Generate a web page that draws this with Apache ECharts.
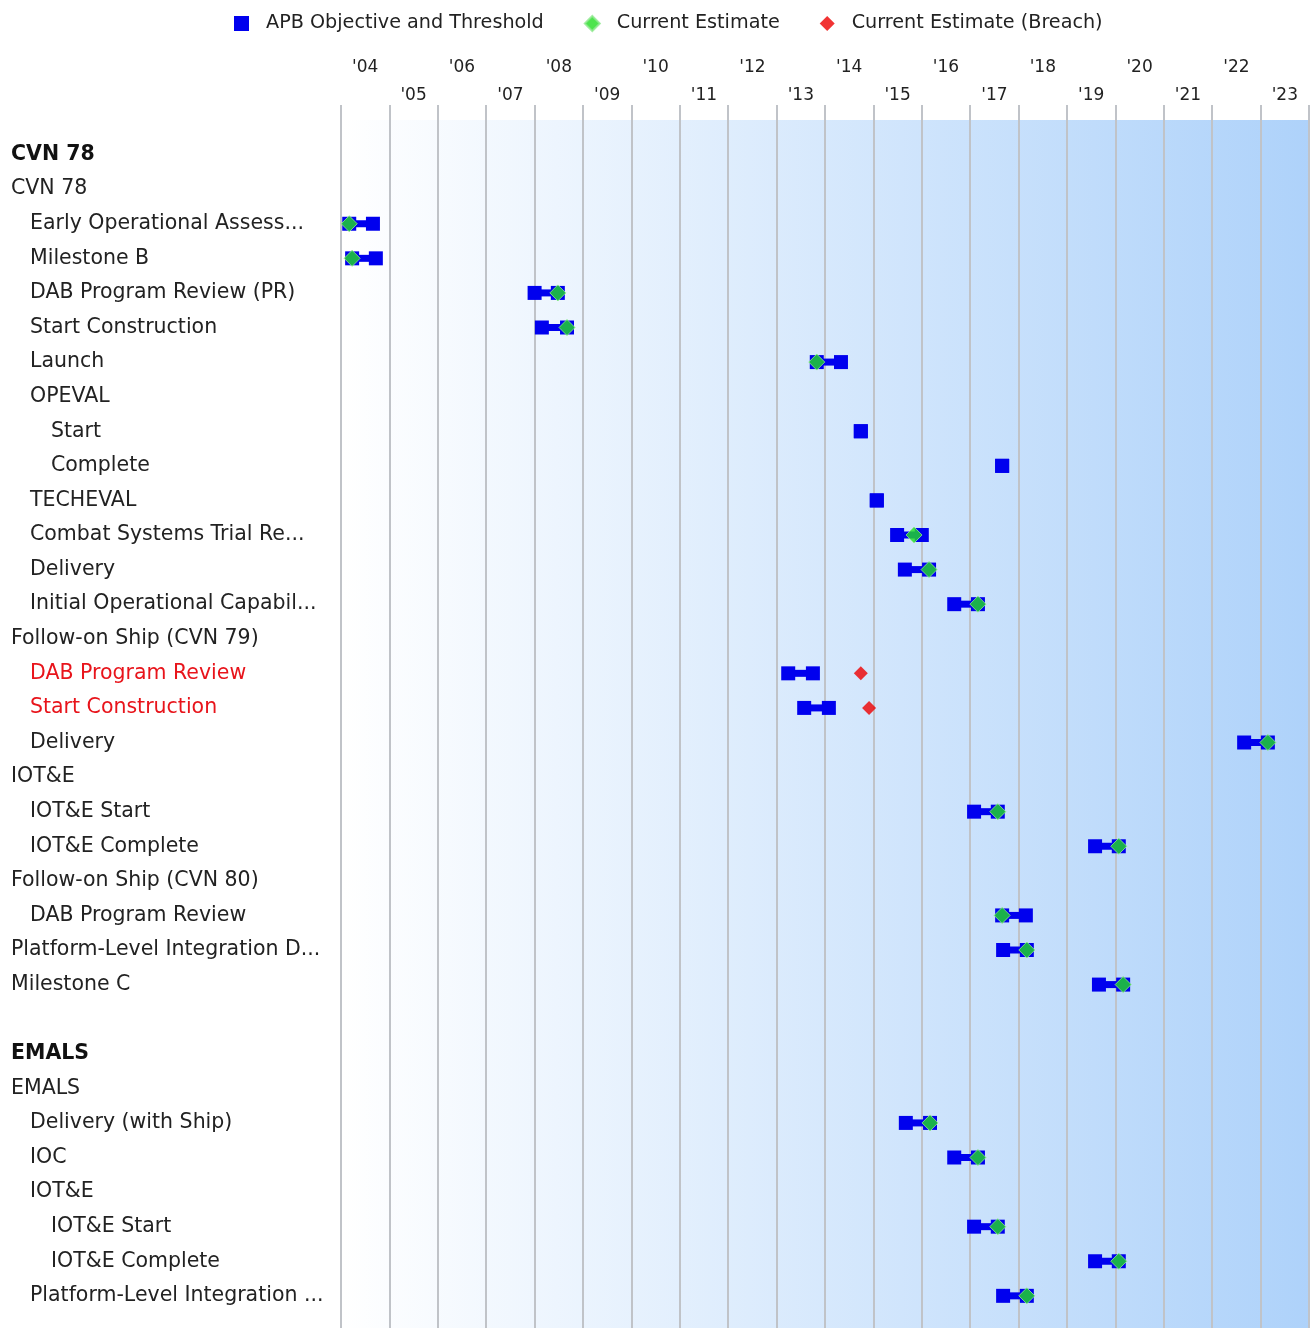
<!DOCTYPE html>
<html><head><meta charset="utf-8">
<script src="https://cdn.jsdelivr.net/npm/echarts@6/dist/echarts.min.js"></script>
<style>html,body{margin:0;padding:0;background:#fff}#c{width:1312px;height:1328px}</style>
</head><body><div id="c"></div>
<script>
const years = ["'04","'05","'06","'07","'08","'09","'10","'11","'12","'13","'14","'15","'16","'17","'18","'19","'20","'21","'22","'23"];

const rowLabels = [
  "CVN 78","CVN 78","Early Operational Assess...","Milestone B","DAB Program Review (PR)",
  "Start Construction","Launch","OPEVAL","Start","Complete","TECHEVAL",
  "Combat Systems Trial Re...","Delivery","Initial Operational Capabil...",
  "Follow-on Ship (CVN 79)","DAB Program Review","Start Construction","Delivery",
  "IOT&E","IOT&E Start","IOT&E Complete","Follow-on Ship (CVN 80)","DAB Program Review",
  "Platform-Level Integration D...","Milestone C","",
  "EMALS","EMALS","Delivery (with Ship)","IOC","IOT&E","IOT&E Start","IOT&E Complete",
  "Platform-Level Integration ..."
];
const rowLevels = [0,0,1,1,1,1,1,1,2,2,1,1,1,1,0,1,1,1,0,1,1,0,1,0,0,0,0,0,1,1,1,2,2,1];
const rowKinds  = ['b','n','n','n','n','n','n','n','n','n','n','n','n','n','n','r','r','n','n','n','n','n','n','n','n','n','b','n','n','n','n','n','n','n'];

const objective = [null,null,2004.17,2004.23,2008.0,2008.15,2013.83,null,2014.74,2017.66,2015.07,
  2015.49,2015.65,2016.67,null,2013.24,2013.57,2022.66,null,2017.08,2019.58,null,2017.66,
  2017.68,2019.66,null,null,null,2015.67,2016.67,null,2017.08,2019.58,2017.68];
const threshold = [null,null,2004.66,2004.72,2008.48,2008.67,2014.33,null,2014.74,2017.66,2015.07,
  2016.0,2016.15,2017.16,null,2013.75,2014.08,2023.15,null,2017.57,2020.07,null,2018.15,
  2018.17,2020.16,null,null,null,2016.17,2017.16,null,2017.57,2020.07,2018.17];
const currentEstimate = [null,null,2004.17,2004.23,2008.48,2008.67,2013.83,null,null,null,null,
  2015.84,2016.15,2017.16,null,null,null,2023.15,null,2017.57,2020.07,null,2017.66,
  2018.17,2020.16,null,null,null,2016.17,2017.16,null,2017.57,2020.07,2018.17];
const breachEstimate = [null,null,null,null,null,null,null,null,null,null,null,
  null,null,null,null,2014.74,2014.91,null,null,null,null,null,null,
  null,null,null,null,null,null,null,null,null,null,null];

const BLUE = '#0000ee', GREEN = '#22dd22', RED = '#ee0000';
const FONT = 'DejaVu Sans';

const apbData = [], ceData = [], brData = [];
rowLabels.forEach((_, i) => {
  if (objective[i] != null) apbData.push([objective[i], threshold[i], i]);
  if (currentEstimate[i] != null) ceData.push([currentEstimate[i], i]);
  if (breachEstimate[i] != null) brData.push([breachEstimate[i], i]);
});

const chart = echarts.init(document.getElementById('c'), null, {renderer: 'canvas'});
const option = {
  animation: false,
  textStyle: {fontFamily: FONT},
  legend: {
    left: 229, top: 9, itemWidth: 15, itemHeight: 15, itemGap: 40,
    textStyle: {fontFamily: FONT, fontSize: 19.2, color: '#222', padding: [0, 0, 0, 12]},
    data: [
      {name: 'APB Objective and Threshold', icon: 'rect'},
      {name: 'Current Estimate', icon: 'diamond'},
      {name: 'Current Estimate (Breach)', icon: 'diamond'}
    ]
  },
  grid: {
    left: 341, right: 3, top: 120, bottom: 0, show: true, borderWidth: 0,
    backgroundColor: new echarts.graphic.LinearGradient(0, 0, 1, 0, [
      {offset: 0, color: '#ffffff'}, {offset: 1, color: '#aed2fa'}
    ])
  },
  xAxis: [
    {type: 'value', min: 2004, max: 2024, show: false},
    {type: 'category', data: years, position: 'top', boundaryGap: true,
      axisLine: {show: false},
      axisTick: {show: true, length: 15, interval: 0, lineStyle: {color: '#c0c3c8', width: 2}},
      splitLine: {show: true, interval: 0, lineStyle: {color: '#c0c3c8', width: 2}},
      axisLabel: {interval: 0, margin: 10, fontFamily: FONT, fontSize: 17, color: '#222', lineHeight: 28,
        formatter: (v, idx) => idx % 2 === 0 ? v + '\n\u00a0' : v}
    }
  ],
  yAxis: {
    type: 'value', inverse: true, min: -1, max: 33.93, interval: 1,
    axisLine: {show: false}, axisTick: {show: false}, splitLine: {show: false},
    axisLabel: {
      show: true, align: 'left', margin: 330,
      formatter: (v) => {
        if (Math.abs(v - Math.round(v)) > 1e-6) return '';
        const i = Math.round(v);
        if (i < 0 || i >= rowLabels.length || !rowLabels[i]) return '';
        const k = rowKinds[i] === 'b' ? 'b' : (rowKinds[i] === 'r' ? 'r' : 'n');
        return '{' + k + rowLevels[i] + '|' + rowLabels[i] + '}';
      },
      rich: (() => {
        const r = {};
        [0, 1, 2].forEach(l => {
          const pad = [0, 0, 0, [0, 19, 40][l]];
          r['n' + l] = {fontFamily: FONT, fontSize: 20.5, color: '#222', padding: pad};
          r['b' + l] = {fontFamily: FONT, fontSize: 20.5, color: '#111', fontWeight: 'bold', padding: pad};
          r['r' + l] = {fontFamily: FONT, fontSize: 20.5, color: '#e8141b', padding: pad};
        });
        return r;
      })()
    }
  },
  series: [
    {
      name: 'APB Objective and Threshold', type: 'custom', xAxisIndex: 0, yAxisIndex: 0,
      itemStyle: {color: BLUE},
      encode: {x: [0, 1], y: 2},
      data: apbData,
      renderItem: (params, api) => {
        const y = api.value(2);
        const p1 = api.coord([api.value(0), y]);
        const p2 = api.coord([api.value(1), y]);
        const s = 14, h = 7;
        const ch = [];
        if (p2[0] - p1[0] > 0.5) {
          ch.push({type: 'rect', shape: {x: p1[0], y: p1[1] - h / 2, width: p2[0] - p1[0], height: h}, style: {fill: BLUE}});
        }
        ch.push({type: 'rect', shape: {x: p1[0] - s / 2, y: p1[1] - s / 2, width: s, height: s}, style: {fill: BLUE}});
        ch.push({type: 'rect', shape: {x: p2[0] - s / 2, y: p2[1] - s / 2, width: s, height: s}, style: {fill: BLUE}});
        return {type: 'group', children: ch};
      },
      z: 2
    },
    {
      name: 'Current Estimate', type: 'scatter', xAxisIndex: 0, yAxisIndex: 0,
      symbol: 'diamond', symbolSize: 16, itemStyle: {color: GREEN, borderColor: '#8fe88f', borderWidth: 1}, data: ceData, z: 3
    },
    {
      name: 'Current Estimate (Breach)', type: 'scatter', xAxisIndex: 0, yAxisIndex: 0,
      symbol: 'diamond', symbolSize: 14, itemStyle: {color: RED}, data: brData, z: 3
    }
  ]
};
chart.setOption(option);
</script>
</body></html>
